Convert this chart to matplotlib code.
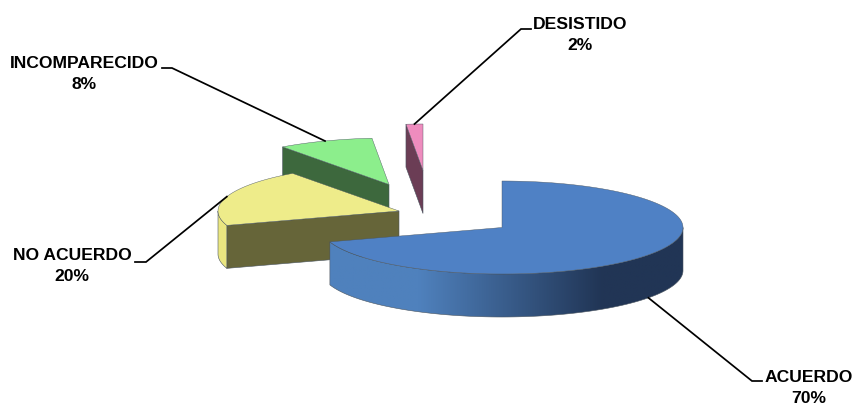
"""
Pastel 3D con porciones separadas
"""
import numpy as np
import matplotlib
matplotlib.use('Agg')
import matplotlib.pyplot as plt
from matplotlib.colors import LinearSegmentedColormap
from matplotlib.patches import Polygon

plt.rcParams['font.family'] = ['Liberation Sans', 'DejaVu Sans']

# datos
categories = ['ACUERDO', 'NO ACUERDO', 'INCOMPARECIDO', 'DESISTIDO']
values = [70, 20, 8.5, 1.5]
pct_labels = ['70%', '20%', '8%', '2%']

# colores
top_colors = ['#4F81C5', '#EEEC8A', '#8CEE8C', '#EE8CBE']
face_colors = ['#213555', '#666539', '#3D683D', '#6B3D55']
rim_colors = [None, '#EAE680', '#3D683D', '#6B3D55']

# geometria en pixeles
CX, CY = 502, 227.5
RX, RY = 181, 46.5
DEPTH = 43
explode_px = [(0, 0), (-103, -16.5), (-113, -43), (-79, -57)]
label_pos = [(809, 388), (72, 266), (84, 74), (580, 35)]
elbows = [((752, 381), (762, 381)), ((146, 262), (135, 262)),
          ((172, 68), (162, 68)), ((521, 29), (531, 29))]

EDGE = '#4A5560'


def point(angle, ox, oy, dz=0):
    # angulo en grados, horario desde las 12
    a = np.radians(angle)
    return ox + RX * np.sin(a), oy - RY * np.cos(a) + dz


def arc(a0, a1, ox, oy, dz=0):
    ang = np.linspace(a0, a1, max(int(abs(a1 - a0)) * 2, 4))
    x, y = point(ang, ox, oy, dz)
    return np.column_stack([x, y])


fig = plt.figure(figsize=(8.56, 4.05), dpi=100)
ax = fig.add_axes([0, 0, 1, 1])

starts = np.concatenate([[0], np.cumsum(values)[:-1]]) * 3.6
ends = np.cumsum(values) * 3.6
blue_grad = LinearSegmentedColormap.from_list(
    'rim', [(0, '#4F81BD'), (0.25, '#4F81BD'), (0.77, '#213555'), (1, '#213555')])

# de atras hacia adelante
for i in [3, 2, 1, 0]:
    ox, oy = CX + explode_px[i][0], CY + explode_px[i][1]
    a0, a1 = starts[i], ends[i]

    # cara radial visible
    if np.sin(np.radians(a0)) < -1e-6:
        px, py = point(a0, ox, oy)
        face = [(ox, oy), (px, py), (px, py + DEPTH), (ox, oy + DEPTH)]
        ax.add_patch(Polygon(face, closed=True, facecolor=face_colors[i],
                             edgecolor=EDGE, linewidth=0.4, zorder=i * -3 + 10))

    # borde exterior (solo la mitad de delante)
    r0, r1 = max(a0, 90), min(a1, 270)
    if r1 > r0:
        upper = arc(r0, r1, ox, oy)
        lower = arc(r1, r0, ox, oy, DEPTH)
        rim = Polygon(np.vstack([upper, lower]), closed=True, zorder=i * -3 + 11,
                      facecolor=rim_colors[i] or 'none', edgecolor=EDGE, linewidth=0.4)
        ax.add_patch(rim)
        if rim_colors[i] is None:
            xmin, xmax = upper[:, 0].min(), upper[:, 0].max()
            im = ax.imshow(np.linspace(0, 1, 256).reshape(1, -1), cmap=blue_grad, aspect='auto',
                           extent=(xmin, xmax, 330, 200), zorder=i * -3 + 10.5)
            im.set_clip_path(rim)

    # tapa superior
    top = np.vstack([[(ox, oy)], arc(a0, a1, ox, oy)])
    ax.add_patch(Polygon(top, closed=True, facecolor=top_colors[i],
                         edgecolor=EDGE, linewidth=0.3, zorder=i * -3 + 12))

    # lineas guia, salen del punto medio del arco
    mid = (a0 + a1) / 2
    mx, my = point(mid, ox, oy, DEPTH if 90 < mid < 270 else 0)
    e1, e2 = elbows[i]
    ax.plot([mx, e1[0], e2[0]], [my, e1[1], e2[1]], color='black', linewidth=1.25,
            solid_joinstyle='miter', zorder=20)

    ax.text(label_pos[i][0], label_pos[i][1], categories[i] + '\n' + pct_labels[i],
            ha='center', va='center', fontsize=12.6, fontweight='bold',
            linespacing=1.42, color='black', zorder=21)

ax.set_xlim(0, 856)
ax.set_ylim(405, 0)
ax.axis('off')

fig.savefig('out.png', dpi=100, facecolor='white')
plt.close(fig)
